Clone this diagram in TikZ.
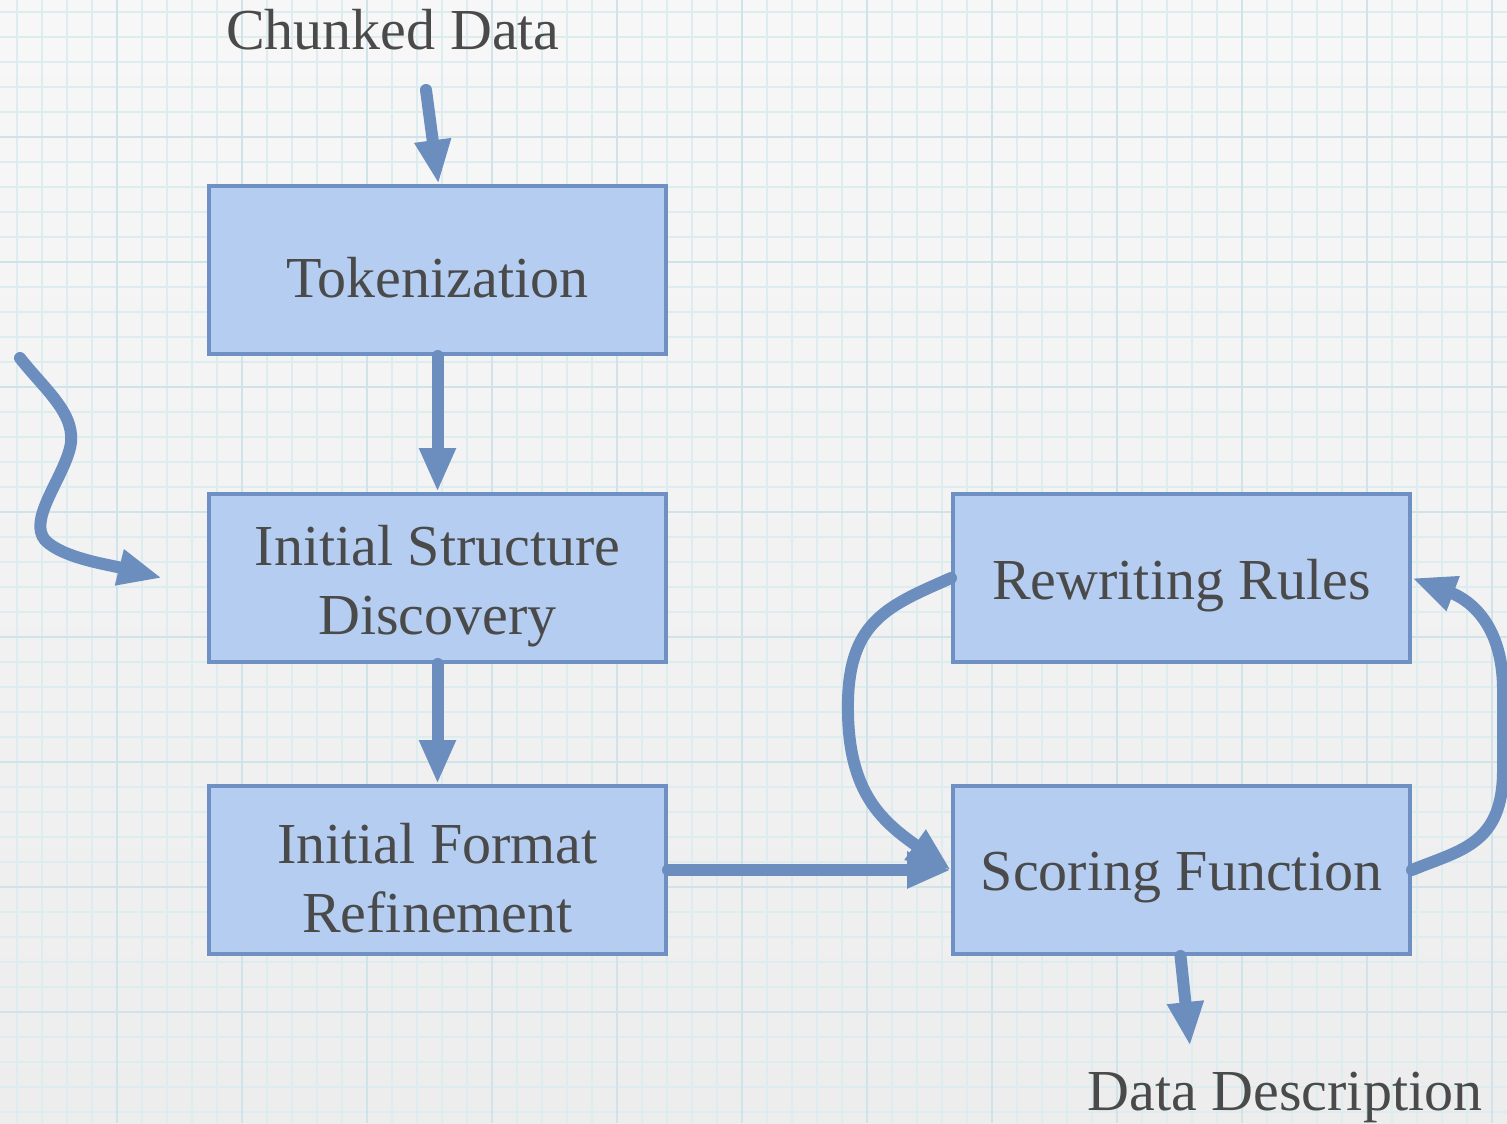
\documentclass[tikz,border=0pt]{standalone}
\usepackage{fontspec}
\setmainfont{Liberation Serif}
\usetikzlibrary{arrows.meta}
\definecolor{paper}{HTML}{F2F2F2}
\definecolor{paperlow}{HTML}{EDEDED}
\definecolor{gridminor}{HTML}{DDECEF}
\definecolor{gridmajor}{HTML}{CFE3E9}
\definecolor{boxfill}{HTML}{B4CDF1}
\definecolor{boxline}{HTML}{6E90C3}
\definecolor{flow}{HTML}{6B8EBF}
\definecolor{ink}{HTML}{4A4A4A}
\tikzset{
  stepbox/.style={draw=boxline, fill=boxfill, line width=2pt,
    minimum width=228.5pt, minimum height=84pt, inner sep=0pt},
  steptext/.style={align=center, text=ink, inner sep=0pt, yshift=-4pt,
    font=\fontsize{29}{34.5}\selectfont},
  label/.style={text=ink, font=\fontsize{29}{34.5}\selectfont, inner sep=0pt},
  arr/.style={draw=flow, line width=6pt, line cap=round,
    -{Triangle[length=22pt, width=17pt]}},
}
\begin{document}
\begin{tikzpicture}[x=0.5pt, y=-0.5pt]
  \useasboundingbox (0,0) rectangle (1507,1123);
  % paper with a faint vertical tone
  \shade[top color=paper!60!white, bottom color=paperlow] (0,0) rectangle (1507,1123);
  % graph paper grid
  \foreach \x in {17,42,...,1507} \draw[gridminor, line width=0.8pt] (\x,0) -- (\x,1123);
  \foreach \y in {12,37,...,1123} \draw[gridminor, line width=0.8pt] (0,\y) -- (1507,\y);
  \foreach \x in {117,242,...,1507} \draw[gridmajor, line width=1.1pt] (\x,0) -- (\x,1123);
  \foreach \y in {137,262,...,1123} \draw[gridmajor, line width=1.1pt] (0,\y) -- (1507,\y);

  % process boxes
  \node[stepbox] (tok) at (437.5,270) {};
  \node[stepbox] (isd) at (437.5,578) {};
  \node[stepbox] (ifr) at (437.5,870) {};
  \node[stepbox] (rw)  at (1181.5,578) {};
  \node[stepbox] (sc)  at (1181.5,870) {};
  \node[steptext] (tokt) at (tok.center) {Tokenization};
  \node[steptext] (isdt) at (isd.center) {Initial Structure\\Discovery};
  \node[steptext] (ifrt) at (ifr.center) {Initial Format\\Refinement};
  \node[steptext] (rwt)  at (rw.center)  {Rewriting Rules};
  \node[steptext] (sct)  at (sc.center)  {Scoring Function};

  % input and output labels
  \node[label, anchor=base] (cd) at (393,50) {Chunked Data};
  \node[label, anchor=base] (dd) at (1285,1110) {Data Description};

  \coordinate (cin) at (426,90);
  \coordinate (dout) at (1190,1046);
  \coordinate (w0) at (20,358);
  \coordinate (w1) at (162,578);

  % main flow
  \draw[arr] (cin) -- ([xshift=0.5]tok.north);
  \draw[arr] (tok.south) -- (isd.north);
  \draw[arr] (isd.south) -- (ifr.north);
  \draw[arr] (ifr.east) -- (sc.west);
  \draw[arr] ([xshift=-0.5]sc.south) -- (dout);

  % feedback loop between rules and scoring
  \draw[arr] (rw.west) .. controls (890,605) and (850,620) .. (848,700)
             .. controls (846,790) and (880,820) .. (sc.west);
  \draw[arr] (sc.east) .. controls (1460,850) and (1503,845) .. (1503,770)
             -- (1503,690) .. controls (1503,625) and (1470,600) .. (rw.east);

  % free-hand incoming arrow on the left
  \draw[arr] (w0) .. controls (45,390) and (78,415) .. (70,448)
             .. controls (62,480) and (28,520) .. (45,540)
             .. controls (62,558) and (110,565) .. (w1);
\end{tikzpicture}
\end{document}
